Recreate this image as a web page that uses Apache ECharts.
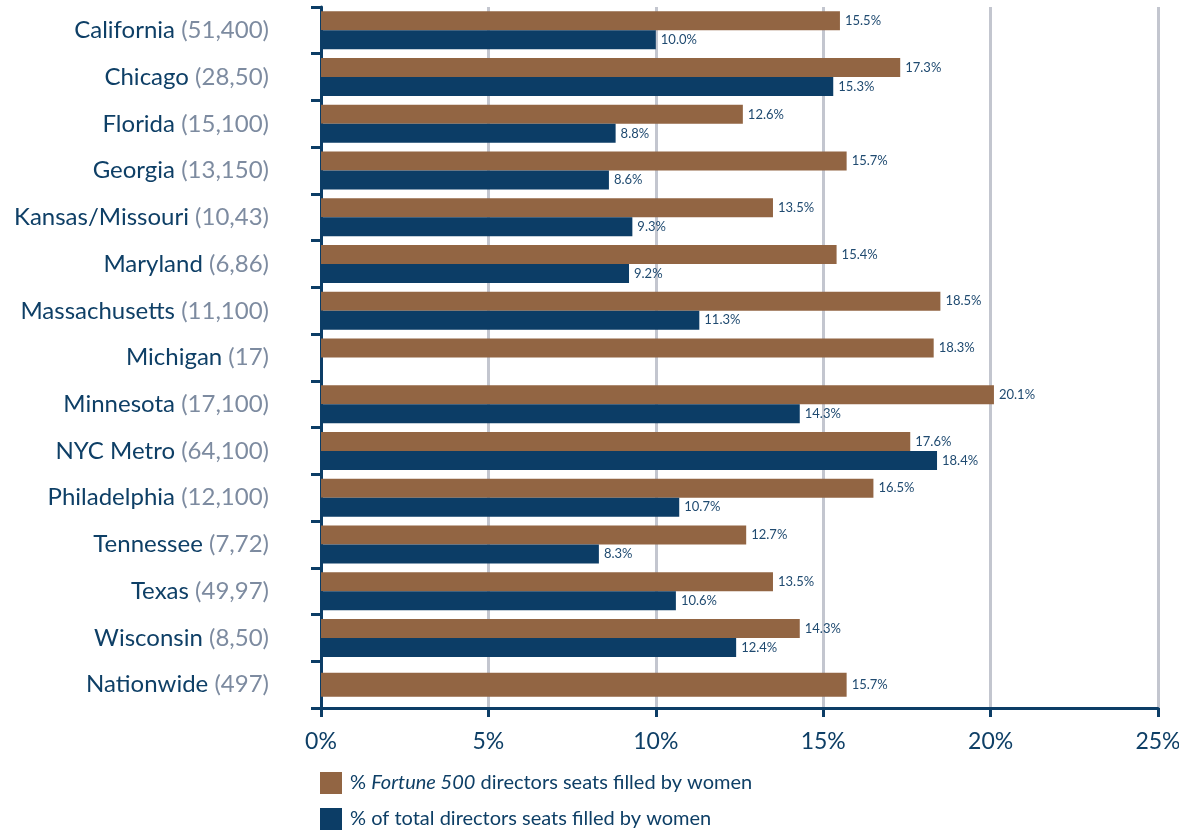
<!DOCTYPE html>
<html>
<head>
<meta charset="utf-8">
<script src="https://cdn.jsdelivr.net/npm/echarts@6/dist/echarts.min.js"></script>
<style>
html,body{margin:0;padding:0;background:#fff;}
#chart{width:1179px;height:839px;}
</style>
</head>
<body>
<div id="chart"></div>
<script>
const regions = ['California','Chicago','Florida','Georgia','Kansas/Missouri','Maryland','Massachusetts','Michigan','Minnesota','NYC Metro','Philadelphia','Tennessee','Texas','Wisconsin','Nationwide'];
const counts = ['(51,400)','(28,50)','(15,100)','(13,150)','(10,43)','(6,86)','(11,100)','(17)','(17,100)','(64,100)','(12,100)','(7,72)','(49,97)','(8,50)','(497)'];
const fortuneShare = [15.5,17.3,12.6,15.7,13.5,15.4,18.5,18.3,20.1,17.6,16.5,12.7,13.5,14.3,15.7];
const totalShare = [10.0,15.3,8.8,8.6,9.3,9.2,11.3,null,14.3,18.4,10.7,8.3,10.6,12.4,null];
const xTicks = [0,5,10,15,20,25];
const seriesNames = ['fortune','total'];

const BROWN = '#926543', BLUE = '#0c3d66', GRID = '#c3c6cf', TXT = '#0e3f66', GREY = '#7d8ba0';
const FONT = 'Lato';
const nationIdx = regions.indexOf('Nationwide');
const categories = regions.map((r,i)=> r + '|' + counts[i]);

const valueLabel = {
  show: true, position: 'right', distance: 5,
  color: '#1f4a70', fontSize: 13, fontFamily: FONT,
  formatter: p => p.value == null ? '' : Number(p.value).toFixed(1) + '%'
};

const yAxisBase = {
  type: 'category', data: categories, inverse: true,
};

const legendCommon = {
  orient: 'vertical', left: 320, itemWidth: 22, itemHeight: 22, padding: 0,
  icon: 'rect',
  formatter: n => n === 'fortune' ? '{t|% }{i|Fortune 500}{t| directors seats filled by women}' : '{t|% of total directors seats filled by women}',
  textStyle: {
    padding: [0,0,0,3],
    rich: {
      t: {color: TXT, fontSize: 20, fontFamily: FONT},
      i: {color: TXT, fontSize: 20, fontFamily: FONT, fontStyle: 'italic'}
    }
  }
};

const chart = echarts.init(document.getElementById('chart'), null, {renderer:'canvas'});
chart.setOption({
  animation: false,
  backgroundColor: '#fff',
  grid: {left: 321, right: 21, top: 7, bottom: 131, containLabel: false, outerBoundsMode: 'none'},
  xAxis: {
    type: 'value', min: xTicks[0], max: xTicks[xTicks.length-1], interval: 5,
    axisLine: {show: true, lineStyle: {color: BLUE, width: 3}},
    axisTick: {show: true, length: 9, lineStyle: {color: BLUE, width: 3}},
    splitLine: {show: true, lineStyle: {color: GRID, width: 3}},
    axisLabel: {formatter: '{value}%', color: TXT, fontSize: 23, fontFamily: FONT, margin: 22}
  },
  yAxis: [
    Object.assign({}, yAxisBase, {
      axisLine: {show: true, lineStyle: {color: BLUE, width: 3}},
      axisTick: {show: true, length: 10, lineStyle: {color: BLUE, width: 3}},
      axisLabel: {
        margin: 52, fontFamily: FONT,
        formatter: v => { const [a,b] = v.split('|'); return '{n|' + a + '}{c| ' + b + '}'; },
        rich: {
          n: {color: TXT, fontSize: 24, fontFamily: FONT},
          c: {color: GREY, fontSize: 24, fontFamily: FONT}
        }
      }
    }),
    Object.assign({}, yAxisBase, {show: false})
  ],
  legend: [
    Object.assign({}, legendCommon, {top: 772, data: [seriesNames[0]]}),
    Object.assign({}, legendCommon, {top: 808, data: [seriesNames[1]]})
  ],
  series: [
    {name: 'fortune', type: 'bar', yAxisIndex: 0, barWidth: 19, barGap: '0%',
     itemStyle: {color: BROWN}, label: valueLabel,
     data: fortuneShare.map((v,i)=> i === nationIdx ? null : v)},
    {name: 'total', type: 'bar', yAxisIndex: 0, barWidth: 19, barGap: '0%',
     itemStyle: {color: BLUE}, label: valueLabel,
     data: totalShare},
    {name: 'nationwide', type: 'bar', yAxisIndex: 1, barWidth: 24,
     itemStyle: {color: BROWN}, label: valueLabel,
     data: fortuneShare.map((v,i)=> i === nationIdx ? v : null)}
  ]
});
</script>
</body>
</html>
